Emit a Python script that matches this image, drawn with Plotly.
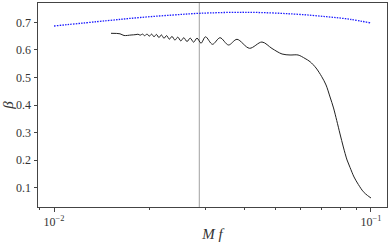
import plotly.graph_objects as go

# Black curve (beta vs Mf)
mf_black = [0.01513, 0.01615, 0.01663, 0.01750, 0.01814,
            0.01841, 0.01870, 0.01902, 0.01933, 0.01965, 0.01998, 0.02032, 0.02068,
            0.02104, 0.02143, 0.02182, 0.02223, 0.02266, 0.02311, 0.02356, 0.02407,
            0.02458, 0.02512, 0.02567, 0.02628, 0.02689, 0.02757, 0.02826, 0.02909,
            0.03006, 0.03162, 0.03340, 0.03552, 0.03778, 0.04138, 0.04531,
            0.04872, 0.05241, 0.05555, 0.05887, 0.06194, 0.06423, 0.06709, 0.06992,
            0.07214, 0.07427, 0.07618, 0.07797, 0.07986, 0.08180, 0.08403, 0.08588,
            0.08841, 0.09122, 0.09456, 0.09749, 0.1000]
beta_black = [0.6601, 0.6583, 0.6521, 0.6539, 0.6554,
              0.6568, 0.6532, 0.6572, 0.6514, 0.6576, 0.6496, 0.6572, 0.6474,
              0.6561, 0.6445, 0.6543, 0.6420, 0.6518, 0.6387, 0.6489, 0.6354,
              0.6463, 0.6325, 0.6441, 0.6300, 0.6427, 0.6278, 0.6427, 0.6242,
              0.6474, 0.6202, 0.6441, 0.6177, 0.6383, 0.6057, 0.6285,
              0.6050, 0.5850, 0.5814, 0.5814, 0.5687, 0.5571, 0.5342, 0.5027,
              0.4726, 0.4291, 0.3892, 0.3438, 0.2949, 0.2477, 0.2006, 0.1734,
              0.1389, 0.1117, 0.0856, 0.0718, 0.0627]

# Blue dotted curve
mf_blue = [0.01000, 0.01466, 0.01868, 0.02379, 0.02881, 0.04062,
           0.05686, 0.07251, 0.08588, 0.1000]
beta_blue = [0.6866, 0.7058, 0.7174, 0.7265, 0.7326, 0.7363,
             0.7301, 0.7203, 0.7109, 0.6975]

vline_mf = 0.02873

x_tickvals = [0.01, 0.1]
x_ticktext = ["10<sup>\u22122</sup>", "10<sup>\u22121</sup>"]
x_minor = [0.009, 0.02, 0.03, 0.04, 0.05, 0.06, 0.07, 0.08, 0.09]
y_tickvals = [0.1, 0.2, 0.3, 0.4, 0.5, 0.6, 0.7]
y_ticktext = ["0.1", "0.2", "0.3", "0.4", "0.5", "0.6", "0.7"]

FONT = "Liberation Serif"
AX = "#444444"

fig = go.Figure()
fig.add_trace(go.Scatter(x=mf_blue, y=beta_blue, mode="lines",
                         line=dict(color="#1a1aff", width=1.3, dash="1.5px,1.2px", shape="spline"),
                         showlegend=False, hoverinfo="skip"))
fig.add_trace(go.Scatter(x=mf_black, y=beta_black, mode="lines",
                         line=dict(color="#222222", width=1, shape="spline", smoothing=0.9),
                         showlegend=False, hoverinfo="skip"))
fig.add_shape(type="line", xref="x", yref="paper", x0=vline_mf, x1=vline_mf, y0=0, y1=1,
              line=dict(color="#a0a0a0", width=1), layer="below")

fig.update_layout(
    width=391, height=242,
    margin=dict(l=38, r=4, t=3, b=35),
    paper_bgcolor="white", plot_bgcolor="white",
    font=dict(family=FONT, size=12, color="#333333"),
    xaxis=dict(type="log", range=[-2.0505, -0.9495], automargin=False,
               tickmode="array", tickvals=x_tickvals, ticktext=x_ticktext,
               ticks="outside", ticklen=3.5, tickwidth=0.8, tickcolor=AX,
               minor=dict(tickmode="array", tickvals=x_minor, ticks="outside",
                          ticklen=2, tickwidth=0.6, tickcolor=AX, showgrid=False),
               showgrid=False, zeroline=False,
               showline=True, linecolor=AX, linewidth=1, mirror=True,
               title=dict(text="<i>M f</i>", font=dict(family=FONT, size=15), standoff=1),
               tickfont=dict(family=FONT, size=12)),
    yaxis=dict(range=[0.03, 0.77], automargin=False,
               tickmode="array", tickvals=y_tickvals, ticktext=y_ticktext,
               ticks="outside", ticklen=3.5, tickwidth=0.8, tickcolor=AX,
               showgrid=False, zeroline=False,
               showline=True, linecolor=AX, linewidth=1, mirror=True,
               title=dict(text="<i>\u03b2</i>", font=dict(family=FONT, size=15), standoff=1),
               tickfont=dict(family=FONT, size=12)),
)

fig.write_html("out.html", config={"displayModeBar": False},
               post_script="document.body.style.margin='0px';document.body.style.overflow='hidden';")
